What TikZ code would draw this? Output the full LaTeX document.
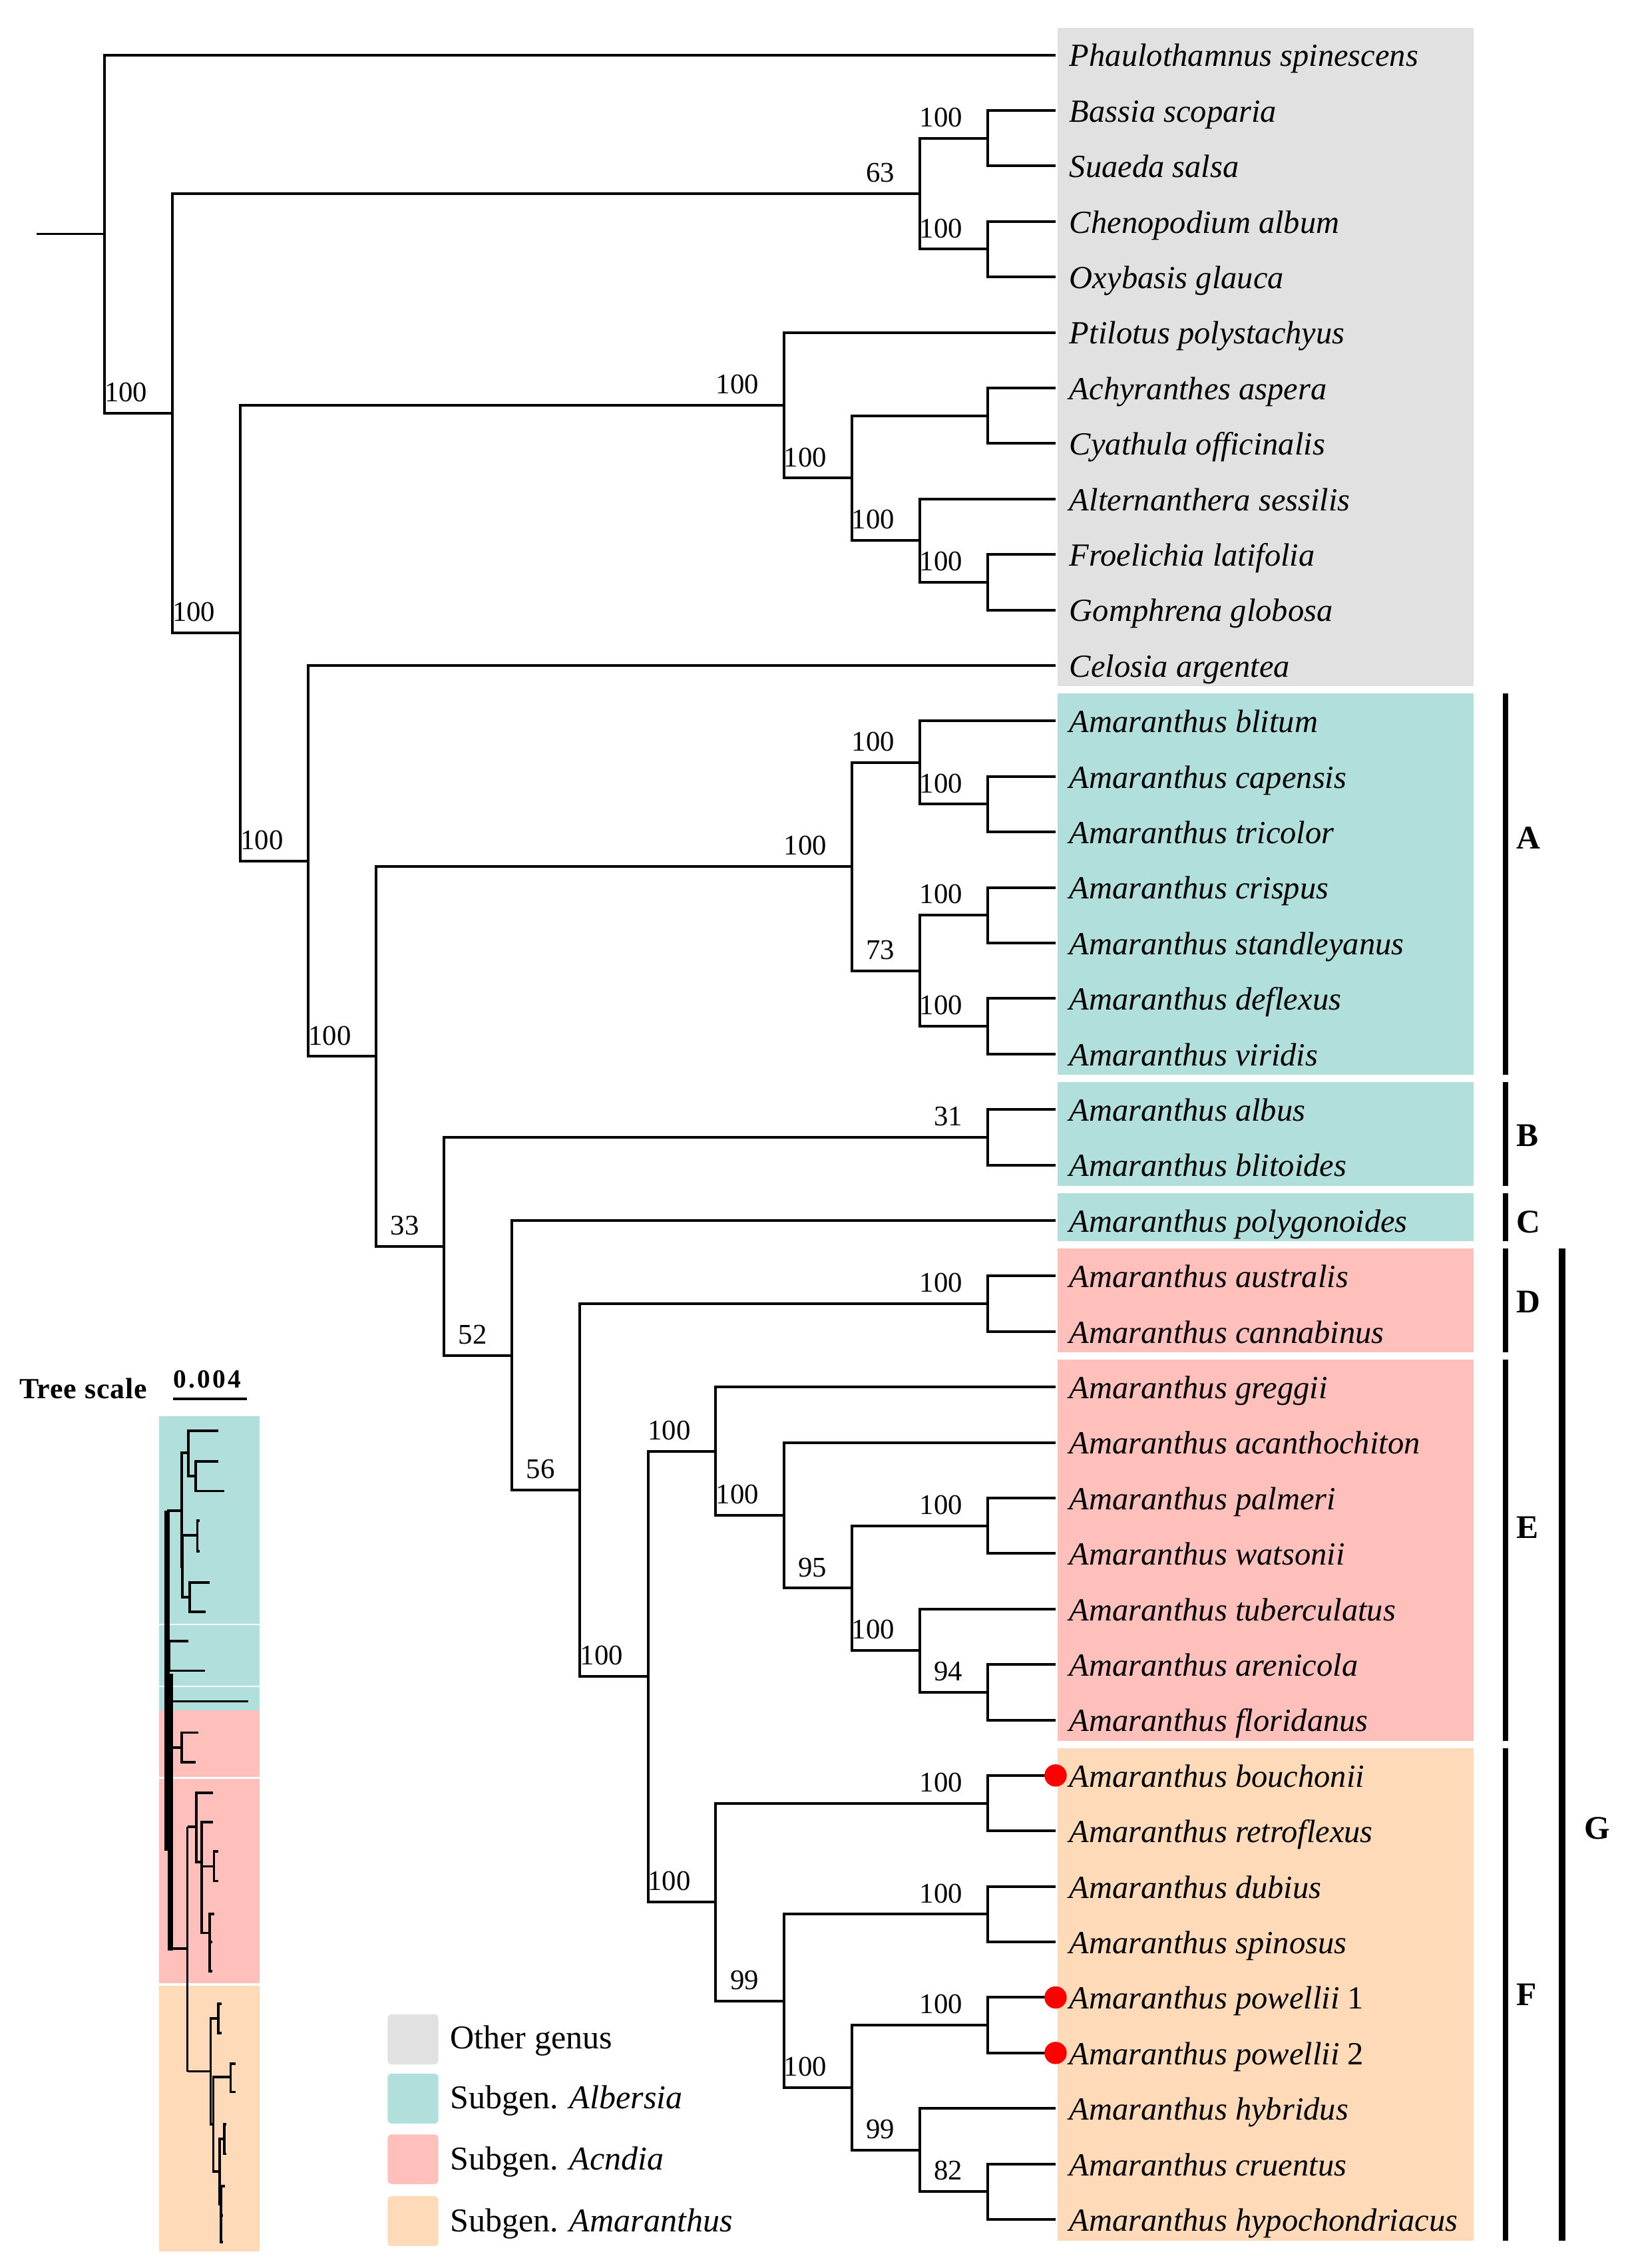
\documentclass[tikz,border=0pt]{standalone}
\usepackage{fontspec}
\setmainfont{Liberation Serif}
\newfontfamily\spacedbf[LetterSpace=8]{Liberation Serif}
\newfontfamily\tightbf[LetterSpace=2]{Liberation Serif}
\usetikzlibrary{calc}

\definecolor{othergray}{RGB}{225,225,225}
\definecolor{albteal}{RGB}{177,223,220}
\definecolor{acnpink}{RGB}{255,191,187}
\definecolor{amapeach}{RGB}{255,218,184}

\tikzset{
  branch/.style={line width=1.05pt},
  leaf/.style={anchor=base west, inner sep=0pt, font=\fontsize{12.7}{14}\selectfont\itshape},
  boot/.style={anchor=base east, inner sep=0pt, font=\fontsize{11.2}{13}\selectfont},
  grp/.style={anchor=west, inner sep=0pt, font=\fontsize{13}{15}\selectfont\bfseries},
  bar/.style={line width=2.16pt},
  mini/.style={line width=1pt},
  spine/.style={line width=2pt},
  key/.style={rounded corners=1.5pt},
  keytext/.style={anchor=base west, inner sep=0pt, font=\fontsize{13.1}{15}\selectfont},
  hit/.style={fill=red, draw=none}
}

% clade: name, x, upper child, lower child
\newcommand{\clade}[4]{%
  \path ($(#3)!.5!(#4)$) coordinate (#1m);
  \coordinate (#1) at (#2,0 |- #1m);
  \draw[branch] (#3) -| (#1) |- (#4);
}
% support value above the branch into a node
\newcommand{\bootlbl}[2]{\node[boot] at ($(#1)+(-17,-8)$) {#2};}

\begin{document}
\begin{tikzpicture}[x=0.02cm, y=-0.02cm]
\useasboundingbox (0,0) rectangle (1124,1568);

% leaf positions
\foreach \i in {1,...,40}
  \coordinate (l\i) at (729.7, {38+(\i-1)*38.37});

% shaded groups
\fill[othergray] ($(l1)+(1.3,-18.9)$) rectangle ($(l12)+(289,14.5)$);
\fill[albteal] ($(l13)+(1.3,-18.9)$) rectangle ($(l19)+(289,14.5)$);
\fill[albteal] ($(l20)+(1.3,-18.9)$) rectangle ($(l21)+(289,14.5)$);
\fill[albteal] ($(l22)+(1.3,-18.9)$) rectangle ($(l22)+(289,14.5)$);
\fill[acnpink] ($(l23)+(1.3,-18.9)$) rectangle ($(l24)+(289,14.5)$);
\fill[acnpink] ($(l25)+(1.3,-18.9)$) rectangle ($(l31)+(289,14.5)$);
\fill[amapeach] ($(l32)+(1.3,-18.9)$) rectangle ($(l40)+(289,14.5)$);

% taxa
\foreach \nm [count=\i] in {Phaulothamnus spinescens, Bassia scoparia, Suaeda salsa,
  Chenopodium album, Oxybasis glauca, Ptilotus polystachyus, Achyranthes aspera,
  Cyathula officinalis, Alternanthera sessilis, Froelichia latifolia, Gomphrena globosa,
  Celosia argentea, Amaranthus blitum, Amaranthus capensis, Amaranthus tricolor,
  Amaranthus crispus, Amaranthus standleyanus, Amaranthus deflexus, Amaranthus viridis,
  Amaranthus albus, Amaranthus blitoides, Amaranthus polygonoides, Amaranthus australis,
  Amaranthus cannabinus, Amaranthus greggii, Amaranthus acanthochiton, Amaranthus palmeri,
  Amaranthus watsonii, Amaranthus tuberculatus, Amaranthus arenicola, Amaranthus floridanus,
  Amaranthus bouchonii, Amaranthus retroflexus, Amaranthus dubius, Amaranthus spinosus,
  Amaranthus powellii \textup{1}, Amaranthus powellii \textup{2}, Amaranthus hybridus,
  Amaranthus cruentus, Amaranthus hypochondriacus}
  \node[leaf] (t\i) at ($(l\i)+(9.3,8)$) {\nm};

% tree
\clade{bs}{682.7}{l2}{l3}
\clade{co}{682.7}{l4}{l5}
\clade{cheno}{635.7}{bs}{co}
\clade{ac}{682.7}{l7}{l8}
\clade{fg}{682.7}{l10}{l11}
\clade{afg}{635.7}{l9}{fg}
\clade{amar}{588.8}{ac}{afg}
\clade{ptil}{541.8}{l6}{amar}
\clade{ct}{682.7}{l14}{l15}
\clade{bct}{635.7}{l13}{ct}
\clade{cs}{682.7}{l16}{l17}
\clade{dv}{682.7}{l18}{l19}
\clade{csdv}{635.7}{cs}{dv}
\clade{cladeA}{588.8}{bct}{csdv}
\clade{cladeB}{682.7}{l20}{l21}
\clade{cladeD}{682.7}{l23}{l24}
\clade{pw}{682.7}{l27}{l28}
\clade{af}{682.7}{l30}{l31}
\clade{taf}{635.7}{l29}{af}
\clade{pwtaf}{588.8}{pw}{taf}
\clade{acpw}{541.8}{l26}{pwtaf}
\clade{cladeE}{494.8}{l25}{acpw}
\clade{br}{682.7}{l32}{l33}
\clade{ds}{682.7}{l34}{l35}
\clade{pp}{682.7}{l36}{l37}
\clade{ch}{682.7}{l39}{l40}
\clade{hch}{635.7}{l38}{ch}
\clade{pph}{588.8}{pp}{hch}
\clade{dsp}{541.8}{ds}{pph}
\clade{cladeF}{494.8}{br}{dsp}
\clade{ef}{447.9}{cladeE}{cladeF}
\clade{def}{400.9}{cladeD}{ef}
\clade{cdef}{354.0}{l22}{def}
\clade{bcdef}{307.0}{cladeB}{cdef}
\clade{amaranthus}{260.0}{cladeA}{bcdef}
\clade{celosia}{213.1}{l12}{amaranthus}
\clade{n2}{166.1}{ptil}{celosia}
\clade{n1}{119.2}{cheno}{n2}
\clade{root}{72.2}{l1}{n1}
\coordinate (stub) at (25.3,0 |- root);
\draw[line width=0.8pt] (stub) -- (root);

% support values
\bootlbl{n1}{100}
\bootlbl{cheno}{63}
\bootlbl{bs}{100}
\bootlbl{co}{100}
\bootlbl{n2}{100}
\bootlbl{ptil}{100}
\bootlbl{amar}{100}
\bootlbl{afg}{100}
\bootlbl{fg}{100}
\bootlbl{celosia}{100}
\bootlbl{amaranthus}{100}
\bootlbl{cladeA}{100}
\bootlbl{bct}{100}
\bootlbl{ct}{100}
\bootlbl{csdv}{73}
\bootlbl{cs}{100}
\bootlbl{dv}{100}
\bootlbl{bcdef}{33}
\bootlbl{cladeB}{31}
\bootlbl{cdef}{52}
\bootlbl{def}{56}
\bootlbl{cladeD}{100}
\bootlbl{ef}{100}
\bootlbl{cladeE}{100}
\bootlbl{acpw}{100}
\bootlbl{pwtaf}{95}
\bootlbl{pw}{100}
\bootlbl{taf}{100}
\bootlbl{af}{94}
\bootlbl{cladeF}{100}
\bootlbl{br}{100}
\bootlbl{dsp}{99}
\bootlbl{ds}{100}
\bootlbl{pph}{100}
\bootlbl{pp}{100}
\bootlbl{hch}{99}
\bootlbl{ch}{82}

% new samples
\fill[hit] (l32) circle (7.7);
\fill[hit] (l36) circle (7.7);
\fill[hit] (l37) circle (7.7);

% group bars
\draw[bar] ($(l13)+(311.1,-18.9)$) -- ($(l19)+(311.1,14.5)$);
\draw[bar] ($(l20)+(311.1,-18.9)$) -- ($(l21)+(311.1,14.5)$);
\draw[bar] ($(l22)+(311.1,-18.9)$) -- ($(l22)+(311.1,14.5)$);
\draw[bar] ($(l23)+(311.1,-18.9)$) -- ($(l24)+(311.1,14.5)$);
\draw[bar] ($(l25)+(311.1,-18.9)$) -- ($(l31)+(311.1,14.5)$);
\draw[bar] ($(l32)+(311.1,-18.9)$) -- ($(l40)+(311.1,14.5)$);
\draw[bar, line width=2.6pt] ($(l23)+(350.3,-18.9)$) -- ($(l40)+(350.3,14.5)$);
\node[grp] (gA) at (1048,579.5) {A};
\node[grp] (gB) at (1048,785) {B};
\node[grp] (gC) at (1048,845) {C};
\node[grp] (gD) at (1048,900) {D};
\node[grp] (gE) at (1048,1056) {E};
\node[grp] (gF) at (1048,1379) {F};
\node[grp] (gG) at (1095,1264) {G};

% legend
\fill[key, othergray] (268,1392.7) rectangle (303,1427.2);
\fill[key, albteal] (268,1433.6) rectangle (303,1468.1);
\fill[key, acnpink] (268,1475.7) rectangle (303,1509.9);
\fill[key, amapeach] (268,1518.4) rectangle (303,1552.9);
\node[keytext] (k1) at (311,1416.5) {Other genus};
\node[keytext] (k2) at (311,1457.9) {Subgen. \textit{Albersia}};
\node[keytext] (k3) at (311,1500) {Subgen. \textit{Acndia}};
\node[keytext] (k4) at (311,1543) {Subgen. \textit{Amaranthus}};

% tree scale
\node[anchor=base west, inner sep=0pt, font=\fontsize{11.5}{14}\tightbf\bfseries] (scl) at (13,967) {Tree scale};
\node[anchor=base west, inner sep=0pt, font=\fontsize{10.3}{12}\spacedbf\bfseries] (sclv) at (119.6,959.7) {0.004};
\draw[line width=1.05pt] (119.6,967.3) -- (170.6,967.3);

% small phylogram
\begin{scope}[shift={(0,929)}, x=0.003066cm, y=-0.008142cm]
  \fill[albteal] (717,123) rectangle (1170,475);
  \fill[albteal] (717,478) rectangle (1170,580);
  \fill[albteal] (717,583) rectangle (1170,622);
  \fill[acnpink] (717,622) rectangle (1170,735);
  \fill[acnpink] (717,738) rectangle (1170,1085);
  \fill[amapeach] (717,1090) rectangle (1170,1540);

  \draw[spine] (754,283) -- (754,860);
  \draw[spine] (768,560) -- (768,1030);
  \draw[mini] (754,283) -- (818,283);
  \draw[mini] (985,148) -| (850,225) -- (882,225);
  \draw[mini] (985,200) -| (882,250) -- (1010,250);
  \draw[mini] (850,185) -| (818,378) -- (822,378);
  \draw[mini] (890,325) -| (822,430) -- (855,430);
  \draw[mini] (900,300) -| (890,352) -- (900,352);
  \draw[mini] (945,405) -| (855,455) -- (928,455);
  \draw[mini] (848,505) -| (762,555) -- (925,555);
  \draw[mini] (765,607) -- (1120,607);
  \draw[mini] (765,685) -- (820,685);
  \draw[mini] (893,660) -| (820,710) -- (882,710);
  \draw[mini] (768,1027) -- (845,1027);
  \draw[mini] (845,820) -- (845,1235);
  \draw[mini] (845,820) -- (885,820);
  \draw[mini] (960,762) -| (885,880) -- (910,880);
  \draw[mini] (960,812) -| (910,1000) -- (945,1000);
  \draw[mini] (910,887) -- (965,887);
  \draw[mini] (985,862) -| (965,912) -- (985,912);
  \draw[mini] (965,968) -| (945,1065) -- (958,1065);
  \draw[mini] (945,1015) -- (958,1015);
  \draw[mini] (845,1235) -- (950,1235);
  \draw[mini] (985,1145) -| (950,1325) -- (962,1325);
  \draw[mini] (1000,1120) -| (985,1170) -- (1000,1170);
  \draw[mini] (1040,1245) -| (962,1405) -- (990,1405);
  \draw[mini] (1062,1222) -| (1040,1270) -- (1062,1270);
  \draw[mini] (1012,1350) -| (990,1460) -- (997,1460);
  \draw[mini] (1020,1325) -| (1012,1375) -- (1020,1375);
  \draw[mini] (1015,1430) -| (997,1525) -- (1005,1525);
  \draw[mini] (997,1480) -- (1005,1480);
\end{scope}
\end{tikzpicture}
\end{document}
